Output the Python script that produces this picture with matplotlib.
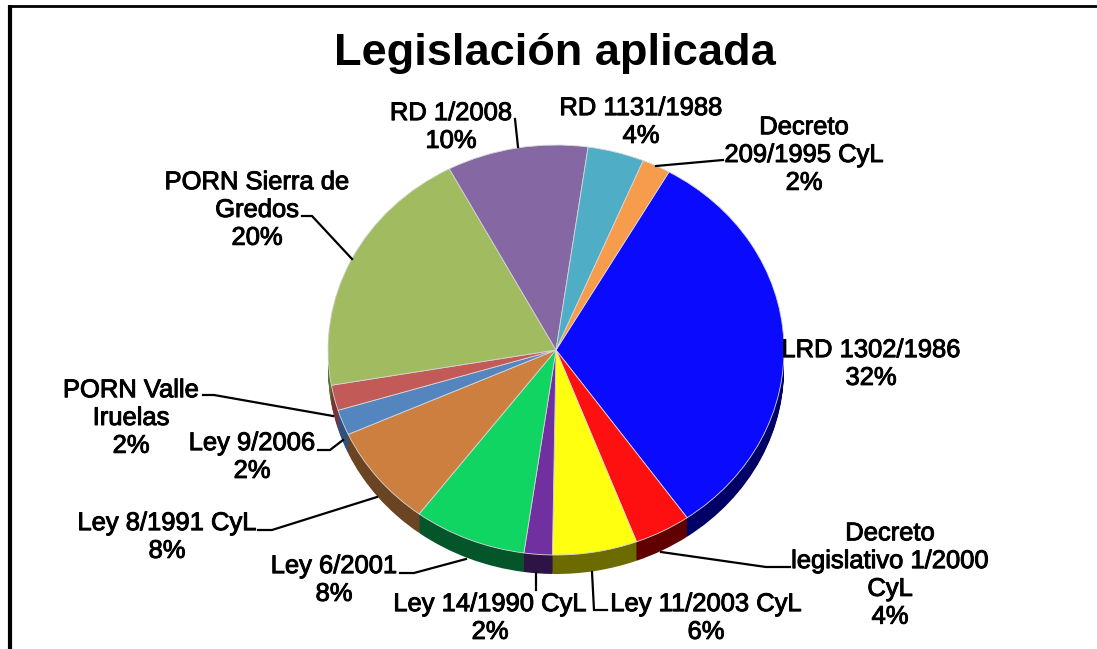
import matplotlib

matplotlib.use("Agg")
import matplotlib.patheffects as pe
import matplotlib.pyplot as plt
import numpy as np

plt.rcParams["font.family"] = ["Liberation Sans", "DejaVu Sans"]

TITLE = "Legislación aplicada"

names = [
    "LRD 1302/1986",
    "Decreto\nlegislativo 1/2000\nCyL",
    "Ley 11/2003 CyL",
    "Ley 14/1990 CyL",
    "Ley 6/2001",
    "Ley 8/1991 CyL",
    "Ley 9/2006",
    "PORN Valle\nIruelas",
    "PORN Sierra de\nGredos",
    "RD 1/2008",
    "RD 1131/1988",
    "Decreto\n209/1995 CyL",
]
shares = [32, 4, 6, 2, 8, 8, 2, 2, 20, 10, 4, 2]
top_colors = [
    "#0a0aff", "#ff1010", "#ffff10", "#7030a0", "#10d563", "#cd7f3f",
    "#5585bf", "#c25a58", "#a0bb60", "#8568a3", "#4fadc6", "#f79b4d",
]
side_colors = [
    "#000066", "#600000", "#6b6b00", "#2e1445", "#05552a", "#6b4423",
    "#32507a", "#7a3533", "#5f7039", "#4f3e61", "#2f6877", "#945d2e",
]

# label centres and leader lines, in image pixels
label_xy = [
    (871, 364), (890, 575), (706, 618), (490, 618), (334, 580), (167, 537),
    (252, 457), (131, 418), (257, 210), (451, 127), (641, 122), (804, 155),
]
leaders = [
    [(661, 552), (717, 560), (766, 567), (790, 567)],
    [(592, 572), (594, 610), (607, 610)],
    [(536, 573), (536, 590)],
    [(400, 573), (414, 573), (466, 559)],
    [(258, 530), (272, 530), (377, 497)],
    [(318, 450), (330, 450), (343, 440)],
    [(203, 395), (214, 395), (333, 416)],
    [(302, 216), (312, 216), (352, 259)],
    [(515, 119), (518, 147)],
    [(723, 160), (656, 166)],
]

W, H = 1097, 649
CX, CY, RX, RY = 556, 350, 228, 205
DEPTH = 19
START = 60.3

fig = plt.figure(figsize=(W / 100, H / 100), dpi=100)

# pie axes: one data unit is RX pixels across and RY pixels down
ax = fig.add_axes([
    (CX - 1.05 * RX) / W,
    1 - (CY + 1.2 * RY) / H,
    2.1 * RX / W,
    2.4 * RY / H,
])
for offset in np.arange(DEPTH, 0, -1):
    ax.pie(shares, startangle=START, counterclock=False, colors=side_colors,
           center=(0, -offset / RY), wedgeprops={"linewidth": 0})
ax.pie(shares, startangle=START, counterclock=False, colors=top_colors,
       wedgeprops={"edgecolor": "#d8d8d8", "linewidth": 0.6})
ax.set_aspect("auto")
ax.set_xlim(-1.05, 1.05)
ax.set_ylim(-1.2, 1.2)
ax.axis("off")

# overlay in image pixels for the frame, leaders and text
over = fig.add_axes([0, 0, 1, 1], zorder=5)
over.set_xlim(0, W)
over.set_ylim(H, 0)
over.axis("off")

over.plot([10, 10], [H, 5], color="black", lw=3, solid_capstyle="butt")
over.plot([8, W], [5.5, 5.5], color="black", lw=2, solid_capstyle="butt")

for path in leaders:
    xs, ys = zip(*path)
    over.plot(xs, ys, color="black", lw=1.6, solid_joinstyle="miter")

stroke = [pe.withStroke(linewidth=0.7, foreground="black")]
over.text(555, 53, TITLE, fontsize=32.5, fontweight="bold", ha="center",
          va="center", color="black")
for name, share, (x, y) in zip(names, shares, label_xy):
    over.text(x, y, f"{name}\n{share}%", fontsize=18.4, ha="center", va="center",
              color="black", linespacing=1.2, path_effects=stroke)

fig.savefig("out.png", dpi=100)
